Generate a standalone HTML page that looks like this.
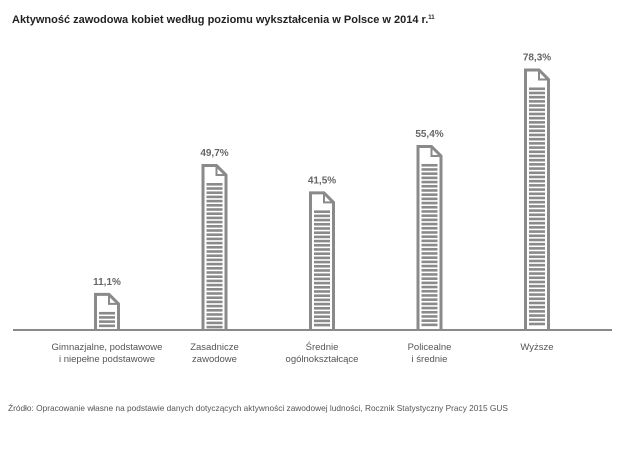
<!DOCTYPE html>
<html><head><meta charset="utf-8"><style>
body{margin:0;background:#fff;width:628px;height:448px;overflow:hidden;font-family:"Liberation Sans","DejaVu Sans",sans-serif}
</style></head><body>
<svg width="628" height="448" id="c">
<text x="12" y="23" font-size="11" font-weight="bold" fill="#222">Aktywność zawodowa kobiet według poziomu wykształcenia w Polsce w 2014 r.<tspan font-size="6" dy="-4">11</tspan></text>
<line x1="13" y1="330" x2="612" y2="330" stroke="#444" stroke-width="1.2"/>
<text x="8" y="411" font-size="8.3" fill="#555">Źródło: Opracowanie własne na podstawie danych dotyczących aktywności zawodowej ludności, Rocznik Statystyczny Pracy 2015 GUS</text>
<g id="bars"></g>
</svg>
<script>
const categories1=["Gimnazjalne, podstawowe","Zasadnicze","Średnie","Policealne","Wyższe"];
const categories2=["i niepełne podstawowe","zawodowe","ogólnokształcące","i średnie",""];
const values=[11.1,49.7,41.5,55.4,78.3];
const valueLabels=["11,1%","49,7%","41,5%","55,4%","78,3%"];
const NS="http://www.w3.org/2000/svg";
const g=document.getElementById('bars');
const base=330, scale=3.34, x0=107, step=107.5, w=26;
function yOf(v){return base-v*scale;}
function mk(t,a){const e=document.createElementNS(NS,t);for(const k in a)e.setAttribute(k,a[k]);g.appendChild(e);return e;}
values.forEach((v,i)=>{
  const cx=x0+i*step, l=cx-w/2, r=cx+w/2, top=yOf(v), f=11;
  const doc=mk('path',{d:`M${l+1.5},${base-1} L${l+1.5},${top+1.5} L${r-f},${top+1.5} L${r-1.5},${top+f} L${r-1.5},${base-1}`,fill:'none',stroke:'#8a8a8a','stroke-width':3});
  
  
  mk('path',{d:`M${r-f},${top+1.5} L${r-f},${top+f} L${r-1.5},${top+f}`,fill:'none',stroke:'#8a8a8a','stroke-width':2});
  for(let y=top+19;y<base-4;y+=4.2){mk('rect',{x:l+5,y:y,width:w-10,height:2.6,fill:'#8a8a8a'});}
  const vl=mk('text',{x:cx,y:top-8,'text-anchor':'middle','font-size':10,'font-weight':'bold',fill:'#666'});
  vl.textContent=valueLabels[i];
  
  
  const c1=mk('text',{x:cx,y:350,'text-anchor':'middle','font-size':9.5,fill:'#555'});
  c1.textContent=categories1[i];
  
  
  const c2=mk('text',{x:cx,y:362,'text-anchor':'middle','font-size':9.5,fill:'#555'});
  c2.textContent=categories2[i];
  
  
});
</script>
</body></html>
